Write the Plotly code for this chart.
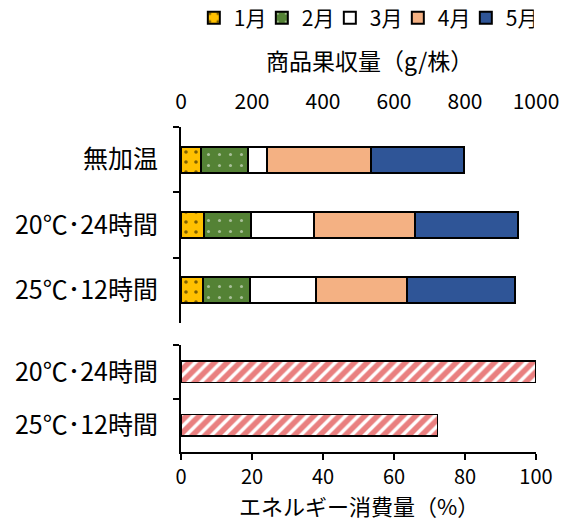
import plotly.graph_objects as go

# Marketable fruit yield per plant (g) by harvest month
treatments = ["無加温", "20℃･24時間", "25℃･12時間"]
months = ["1月", "2月", "3月", "4月", "5月"]
yield_jan = [56, 65, 62]
yield_feb = [134, 132, 133]
yield_mar = [53, 178, 186]
yield_apr = [292, 283, 256]
yield_may = [262, 290, 305]

# Relative energy consumption (%)
heated = ["20℃･24時間", "25℃･12時間"]
energy = [100, 72.3]

yield_ticks = [0, 200, 400, 600, 800, 1000]
energy_ticks = [0, 20, 40, 60, 80, 100]

yield_title = "商品果収量（g/株）"
energy_title = "エネルギー消費量（%）"

FONT = "Noto Sans CJK JP"
month_series = [yield_jan, yield_feb, yield_mar, yield_apr, yield_may]
styles = [
    dict(color="#FFC000", pattern=dict(shape=".", fgcolor="#000000", bgcolor="#FFC000",
                                       size=10, solidity=0.1, fillmode="overlay")),
    dict(color="#548235", pattern=dict(shape=".", fgcolor="#FFFFFF", bgcolor="#548235",
                                       size=11, solidity=0.06, fillmode="overlay")),
    dict(color="#FFFFFF"),
    dict(color="#F4B183"),
    dict(color="#2F5597"),
]

fig = go.Figure()
for name, vals, st in zip(months, month_series, styles):
    fig.add_trace(go.Bar(
        x=vals, y=treatments, orientation="h", name=name,
        marker=dict(line=dict(color="#000000", width=2), **st),
        width=0.4, xaxis="x", yaxis="y",
    ))

fig.add_trace(go.Bar(
    x=energy, y=heated, orientation="h", showlegend=False,
    marker=dict(color="#FFFFFF", line=dict(color="#000000", width=1.5),
                pattern=dict(shape="/", fgcolor="#D40000", bgcolor="#FFFFFF",
                             size=9, solidity=0.62, fillmode="overlay")),
    width=0.4, xaxis="x2", yaxis="y2",
))

W, H = 563, 520
ml, mr, mt, mb = 181, 27, 127, 68
ph = H - mt - mb


def paper_y(px):
    """Convert a pixel row (from the top of the figure) to paper coordinates."""
    return (H - mb - px) / ph


tick_font = dict(family=FONT, size=21, color="#000000")
low_tick_font = dict(family=FONT, size=20, color="#000000")
cat_font = dict(family=FONT, size=25, color="#000000")
title_font = dict(family=FONT, size=23, color="#000000")
low_title_font = dict(family=FONT, size=22, color="#000000")

common_y = dict(type="category", categoryorder="array", autorange="reversed",
                showline=True, linecolor="#000000", linewidth=2,
                ticks="outside", ticklen=6, tickwidth=2, tickcolor="#000000",
                tickson="boundaries", showgrid=False, zeroline=False,
                ticklabelstandoff=16, automargin=False, tickfont=cat_font)

fig.update_layout(
    width=W, height=H,
    margin=dict(l=ml, r=mr, t=mt, b=mb, autoexpand=False),
    paper_bgcolor="#FFFFFF", plot_bgcolor="#FFFFFF",
    barmode="stack",
    font=tick_font,
    showlegend=True,
    legend=dict(orientation="h", x=0.515, xanchor="center", y=paper_y(18),
                yanchor="middle", font=dict(family=FONT, size=21),
                traceorder="normal", itemwidth=30, entrywidth=23,
                tracegroupgap=0),
    xaxis=dict(range=[0, 1000], tickvals=yield_ticks, side="top", anchor="y",
               showline=False, showgrid=False, zeroline=False, ticks="",
               ticklabelstandoff=13, automargin=False, tickfont=tick_font),
    yaxis=dict(domain=[paper_y(323), 1.0], categoryarray=treatments, **common_y),
    xaxis2=dict(range=[0, 100], tickvals=energy_ticks, side="bottom", anchor="y2",
                showline=True, linecolor="#000000", linewidth=2,
                ticks="outside", ticklen=6, tickwidth=2, tickcolor="#000000",
                showgrid=False, zeroline=False, automargin=False,
                ticklabelstandoff=0, tickfont=low_tick_font),
    yaxis2=dict(domain=[0, paper_y(345)], categoryarray=heated, **common_y),
    annotations=[
        dict(text=yield_title, xref="paper", yref="paper", x=0.53, y=paper_y(60),
             xanchor="center", yanchor="middle", showarrow=False, font=title_font),
        dict(text=energy_title, xref="paper", yref="paper", x=0.5, y=paper_y(505),
             xanchor="center", yanchor="middle", showarrow=False, font=low_title_font),
    ],
)

fig.write_html("out.html")
